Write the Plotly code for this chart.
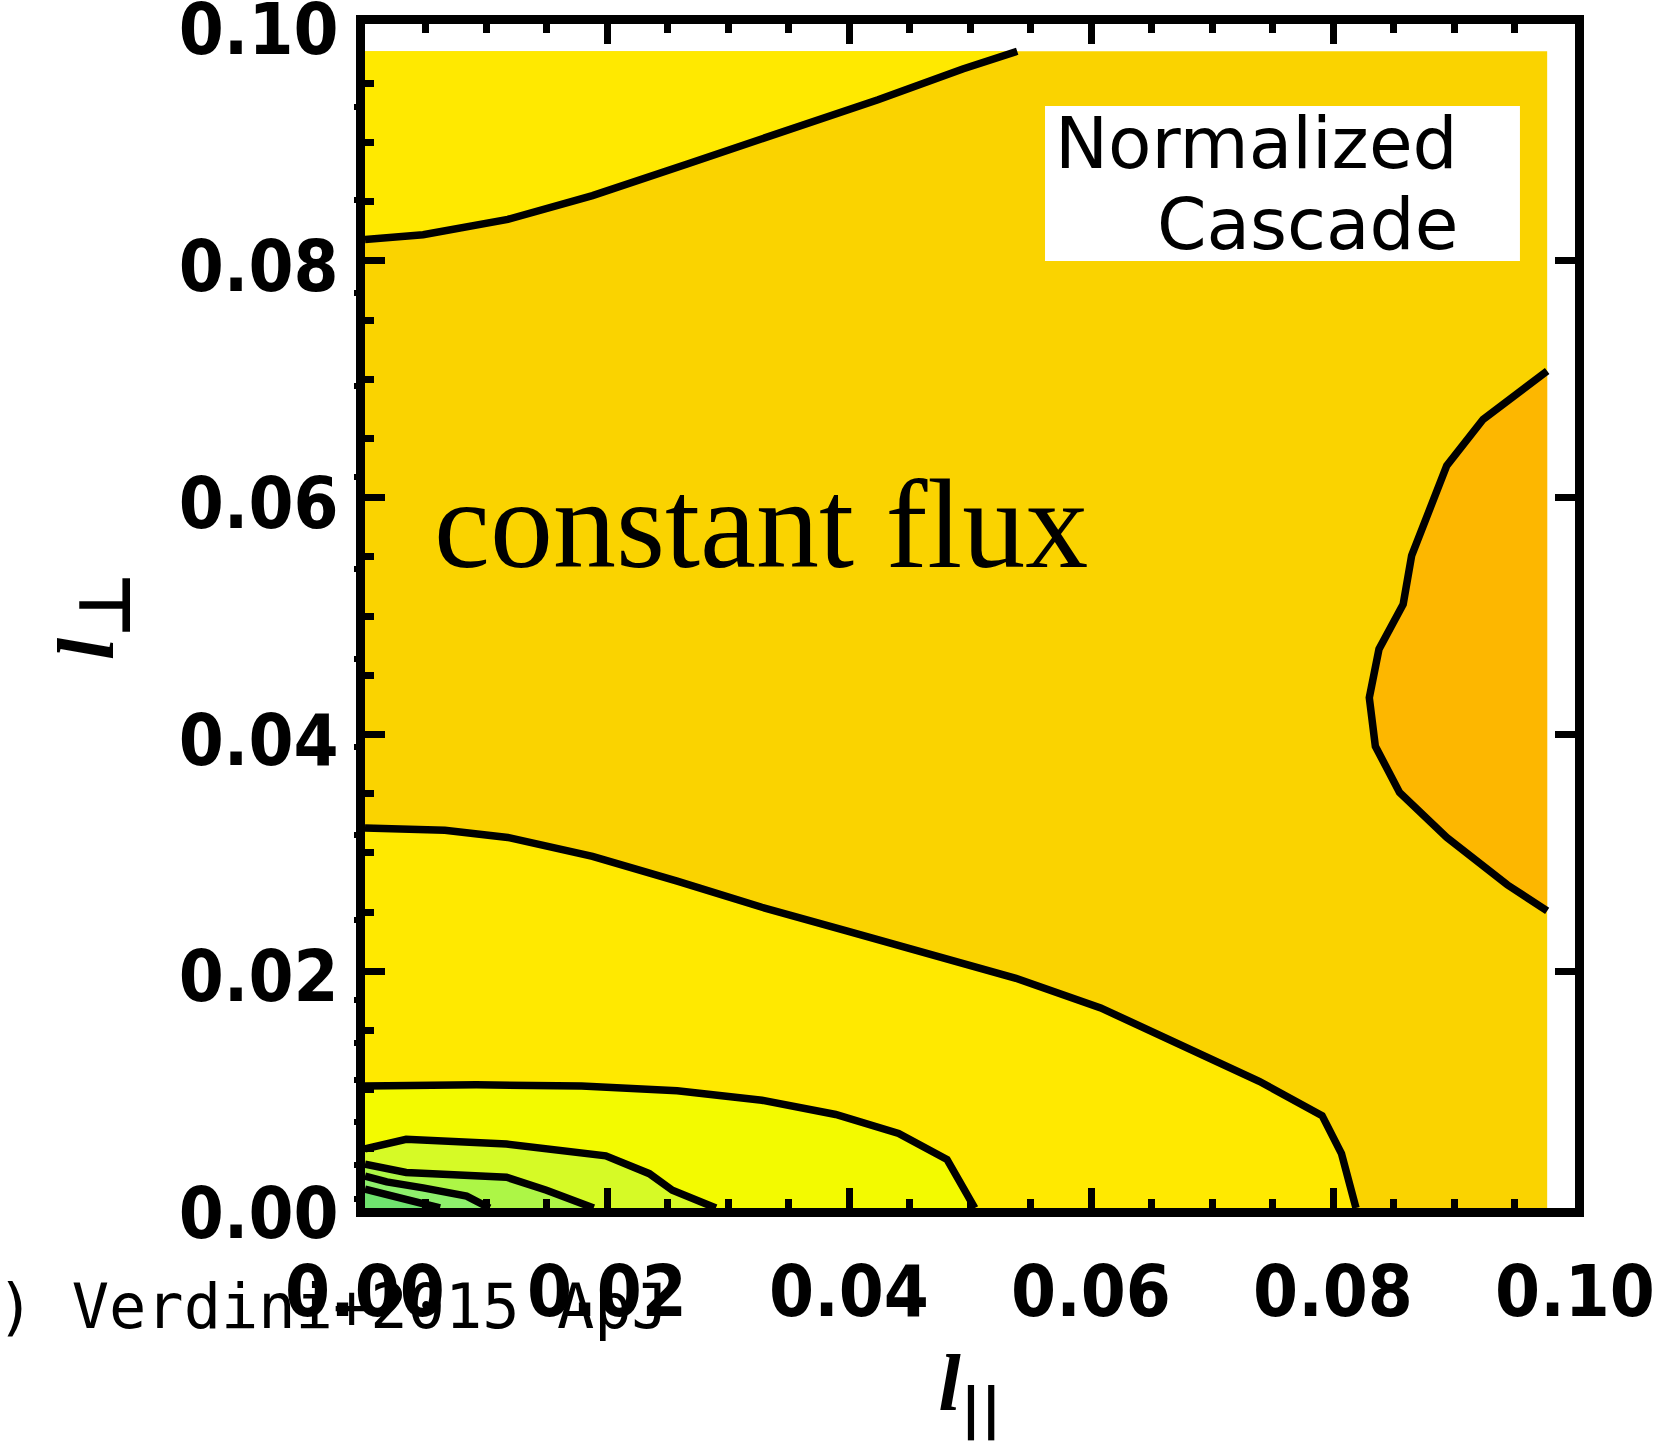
import plotly.graph_objects as go

# Extent of the computed (l_par, l_perp) grid; the axes run to 0.10
L_MAX = 0.0977

# Isolines of the normalized cascade: vertices in (l_par, l_perp)
# upper-left level (bright yellow above it)
c1_lpar = [0.0, 0.0048, 0.0118, 0.0188, 0.0267, 0.0345, 0.0424, 0.0494, 0.0539]
c1_lperp = [0.0818, 0.0822, 0.0835, 0.0855, 0.0882, 0.0909, 0.0936, 0.0962, L_MAX]

# right-hand level (orange inside it)
c2_lpar = [L_MAX, 0.0924, 0.0894, 0.0865, 0.0858, 0.0838, 0.0830, 0.0835, 0.0855, 0.0894, 0.0944, L_MAX]
c2_lperp = [0.0707, 0.0666, 0.0627, 0.0551, 0.0510, 0.0472, 0.0431, 0.0390, 0.0351, 0.0313, 0.0273, 0.0251]

# lower levels, from the outermost to the innermost around the origin
c3_lpar = [0.0, 0.0066, 0.0118, 0.0188, 0.0258, 0.0328, 0.0398, 0.0468, 0.0538, 0.0608, 0.0677, 0.0739, 0.0791, 0.0807, 0.0819]
c3_lperp = [0.0321, 0.0319, 0.0313, 0.0297, 0.0276, 0.0254, 0.0234, 0.0214, 0.0194, 0.0169, 0.0137, 0.0107, 0.0078, 0.0046, 0.0]

c4_lpar = [0.0, 0.0092, 0.0179, 0.0258, 0.0328, 0.0389, 0.0441, 0.0481, 0.0504]
c4_lperp = [0.0103, 0.0104, 0.0103, 0.0099, 0.0091, 0.0079, 0.0063, 0.0041, 0.0]

c5_lpar = [0.0, 0.0034, 0.0117, 0.0199, 0.0235, 0.0254, 0.0290]
c5_lperp = [0.0050, 0.0058, 0.0054, 0.0044, 0.0029, 0.0015, 0.0]

c6_lpar = [0.0, 0.0034, 0.0117, 0.0150, 0.0189]
c6_lperp = [0.0037, 0.0030, 0.0026, 0.0015, 0.0]

c7_lpar = [0.0, 0.0018, 0.0048, 0.0084, 0.0103]
c7_lperp = [0.0027, 0.0022, 0.0017, 0.0010, 0.0]

c8_lpar = [0.0, 0.0020, 0.0045, 0.0062]
c8_lperp = [0.0016, 0.0011, 0.0005, 0.0]

# Extra outer ticks along the left axis
left_marks = [0.0930, 0.0851, 0.0773, 0.0694, 0.0617, 0.0540, 0.0464, 0.0389,
              0.0315, 0.0243, 0.0176, 0.0139, 0.0108, 0.0073, 0.0036, 0.0008]

tick_vals = [0.0, 0.02, 0.04, 0.06, 0.08, 0.10]
tick_text = ["0.00", "0.02", "0.04", "0.06", "0.08", "0.10"]

GOLD = "#FAD300"
YELLOW = "#FFE900"
ORANGE = "#FDB700"
LEMON = "#F3FA00"
LIME = "#D6FA26"
GREEN1 = "#ADF646"
GREEN2 = "#8EF06C"
GREEN3 = "#6FE36E"

fig = go.Figure()


def fill(xs, ys, color):
    fig.add_trace(go.Scatter(x=xs, y=ys, mode="lines", fill="toself",
                             fillcolor=color, line=dict(width=0),
                             hoverinfo="skip", showlegend=False))


# base level over the whole grid
fill([0, L_MAX, L_MAX, 0], [0, 0, L_MAX, L_MAX], GOLD)
# upper-left region
fill(c1_lpar + [0.0], c1_lperp + [L_MAX], YELLOW)
# right-hand maximum
fill(c2_lpar, c2_lperp, ORANGE)
# nested regions near the origin
for cx, cy, col in [(c3_lpar, c3_lperp, YELLOW), (c4_lpar, c4_lperp, LEMON),
                    (c5_lpar, c5_lperp, LIME), (c6_lpar, c6_lperp, GREEN1),
                    (c7_lpar, c7_lperp, GREEN2), (c8_lpar, c8_lperp, GREEN3)]:
    fill(cx + [0.0], cy + [0.0], col)

# contour lines
for cx, cy in [(c1_lpar, c1_lperp), (c2_lpar, c2_lperp), (c3_lpar, c3_lperp),
               (c4_lpar, c4_lperp), (c5_lpar, c5_lperp), (c6_lpar, c6_lperp),
               (c7_lpar, c7_lperp), (c8_lpar, c8_lperp)]:
    fig.add_trace(go.Scatter(x=cx, y=cy, mode="lines",
                             line=dict(color="black", width=7.5),
                             hoverinfo="skip", showlegend=False))

# empty traces that attach the extra tick axes
fig.add_trace(go.Scatter(x=[], y=[], xaxis="x2", yaxis="y2", showlegend=False))
fig.add_trace(go.Scatter(x=[], y=[], xaxis="x", yaxis="y3", showlegend=False))

tickfont = dict(family="DejaVu Sans Condensed, DejaVu Sans", size=72,
                color="black", weight="bold")
title_font = dict(family="DejaVu Sans", size=80, color="black", weight="bold")
minor_ticks = dict(dtick=0.005, tick0=0, ticks="inside", ticklen=9,
                   tickwidth=7, tickcolor="black", showgrid=False)

fig.update_layout(
    width=1659, height=1441,
    margin=dict(l=365, r=84, t=24, b=233, autoexpand=False),
    paper_bgcolor="white", plot_bgcolor="white",
    xaxis=dict(range=[0, 0.1], tickvals=tick_vals, ticktext=tick_text,
               ticks="inside", ticklen=20, tickwidth=7, tickcolor="black",
               minor=minor_ticks,
               showline=True, linewidth=9, linecolor="black", mirror=True,
               showgrid=False, zeroline=False, tickfont=tickfont,
               ticklabelstandoff=13, ticklabeloverflow="allow",
               title=dict(text='<span style="font-family:Liberation Serif"><i>l</i></span><sub>||</sub>',
                          font=title_font, standoff=48)),
    xaxis2=dict(range=[0, 0.1], overlaying="x", side="top", anchor="y2",
                tickvals=tick_vals, ticks="inside", ticklen=20, tickwidth=7,
                tickcolor="black", showticklabels=False, minor=minor_ticks,
                showline=False, showgrid=False, zeroline=False),
    yaxis=dict(range=[0, 0.1], tickvals=tick_vals, ticktext=tick_text,
               ticks="inside", ticklen=20, tickwidth=7, tickcolor="black",
               minor=minor_ticks,
               showline=True, linewidth=9, linecolor="black", mirror=True,
               showgrid=False, zeroline=False, tickfont=tickfont,
               ticklabelstandoff=3, ticklabelshift=5,
               ticklabeloverflow="allow",
               title=dict(text='<span style="font-family:Liberation Serif"><i>l</i></span>'
                               '<sub><span style="font-size:72px">⊥</span></sub>',
                          font=title_font, standoff=42)),
    yaxis2=dict(range=[0, 0.1], overlaying="y", side="right", anchor="x2",
                tickvals=tick_vals, ticks="inside", ticklen=20, tickwidth=7,
                tickcolor="black", showticklabels=False, showline=False,
                showgrid=False, zeroline=False),
    yaxis3=dict(range=[0, 0.1], overlaying="y", side="left", anchor="x",
                tickvals=left_marks, ticks="outside", ticklen=10, tickwidth=6,
                tickcolor="black", showticklabels=False, showline=False,
                showgrid=False, zeroline=False),
)

# legend-like label box
fig.add_shape(type="rect", xref="paper", yref="paper",
              x0=0.562, x1=0.9545, y0=0.7998, y1=0.9307,
              fillcolor="white", line=dict(width=0), layer="above")
label_font = dict(family="DejaVu Sans", size=71, color="black")
fig.add_annotation(text="Normalized", xref="paper", yref="paper",
                   x=0.905, y=0.899, xanchor="right", yanchor="middle",
                   showarrow=False, font=label_font)
fig.add_annotation(text="Cascade", xref="paper", yref="paper",
                   x=0.905, y=0.831, xanchor="right", yanchor="middle",
                   showarrow=False, font=label_font)

fig.add_annotation(text="constant flux", xref="paper", yref="paper",
                   x=0.055, y=0.577, xanchor="left", yanchor="middle",
                   showarrow=False,
                   font=dict(family="Liberation Serif", size=126, color="black"))

fig.add_annotation(text=") Verdini+2015 ApJ", xref="paper", yref="paper",
                   x=-0.3061, y=-0.0836, xanchor="left", yanchor="middle",
                   showarrow=False,
                   font=dict(family="DejaVu Sans Mono", size=62, color="black"))

fig.write_html("out.html")
